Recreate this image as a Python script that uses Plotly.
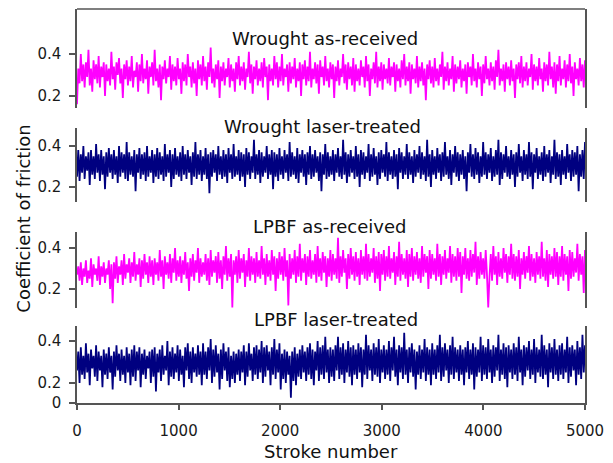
import numpy as np
import plotly.graph_objects as go

# Coefficient of friction readings (in hundredths), sampled evenly over 0..5000 strokes
wrought_as_received = [
    16, 33, 26, 40, 27, 35, 24, 36, 29, 42, 25, 33, 22, 37, 28, 35, 26, 39, 24, 34,
    29, 36, 20, 35, 27, 33, 25, 41, 28, 34, 23, 36, 30, 38, 26, 33, 19, 35, 28, 37,
    25, 34, 27, 39, 24, 32, 29, 36, 22, 35, 27, 40, 26, 33, 28, 37, 21, 34, 29, 36,
    25, 42, 27, 33, 24, 35, 18, 34, 28, 37, 26, 33, 29, 39, 23, 35, 27, 34, 25, 38,
    28, 33, 21, 36, 27, 35, 25, 40, 29, 34, 24, 36, 26, 33, 20, 37, 28, 35, 25, 39,
    27, 34, 23, 36, 29, 43, 26, 33, 24, 35, 28, 37, 19, 34, 27, 36, 25, 33, 29, 38,
    24, 35, 27, 33, 22, 36, 28, 39, 25, 34, 27, 36, 23, 33, 29, 41, 26, 35, 21, 34,
    28, 37, 25, 33, 27, 36, 24, 38, 29, 34, 18, 35, 27, 33, 25, 39, 28, 36, 24, 34,
    27, 40, 25, 33, 29, 35, 22, 36, 26, 34, 28, 38, 24, 33, 27, 36, 20, 35, 28, 37,
    25, 34, 27, 41, 24, 33, 28, 36, 26, 35, 21, 37, 29, 34, 25, 39, 27, 33, 24, 36,
    28, 35, 19, 34, 27, 37, 25, 33, 29, 40, 26, 35, 23, 36, 28, 34, 25, 38, 22, 35,
    27, 33, 25, 37, 29, 34, 24, 39, 27, 35, 20, 33, 28, 36, 26, 41, 24, 34, 27, 36,
    23, 35, 28, 33, 26, 38, 25, 34, 29, 36, 22, 35, 27, 33, 24, 37, 28, 40, 25, 34,
    27, 36, 21, 35, 28, 33, 26, 39, 24, 34, 27, 36, 25, 33, 18, 35, 28, 37, 26, 34,
    24, 38, 27, 33, 25, 35, 29, 41, 23, 34, 27, 36, 25, 33, 28, 39, 22, 35, 26, 34,
    28, 37, 24, 33, 27, 35, 21, 36, 29, 34, 25, 40, 27, 33, 24, 36, 28, 34, 20, 35,
    26, 39, 28, 33, 25, 36, 27, 34, 23, 37, 29, 42, 25, 33, 27, 35, 22, 36, 28, 34,
    25, 37, 27, 33, 19, 35, 28, 36, 26, 39, 24, 34, 27, 36, 25, 33, 29, 40, 23, 35,
    27, 34, 25, 38, 28, 33, 22, 36, 27, 35, 25, 41, 28, 34, 24, 36, 21, 35, 27, 39,
    25, 33, 28, 37, 24, 35, 27, 40, 26, 34, 20, 36, 28, 33, 25, 38, 27, 35, 24, 37,
]
wrought_laser_treated = [
    25, 38, 23, 36, 27, 40, 24, 35, 28, 37, 21, 38, 26, 35, 24, 41, 27, 36, 23, 38,
    26, 35, 19, 37, 25, 39, 27, 36, 24, 38, 26, 35, 22, 40, 25, 37, 27, 36, 24, 42,
    23, 37, 26, 35, 25, 38, 18, 36, 27, 39, 24, 36, 26, 37, 23, 40, 25, 35, 27, 38,
    22, 36, 25, 39, 24, 37, 26, 35, 23, 41, 25, 36, 27, 38, 20, 36, 24, 39, 26, 35,
    25, 37, 23, 40, 26, 36, 24, 38, 27, 35, 21, 37, 25, 42, 24, 36, 26, 38, 23, 35,
    26, 39, 24, 36, 17, 37, 25, 38, 27, 36, 23, 40, 26, 35, 24, 38, 25, 36, 22, 39,
    27, 36, 24, 41, 25, 35, 26, 38, 23, 37, 25, 36, 20, 39, 26, 37, 24, 35, 27, 43,
    24, 36, 26, 38, 22, 37, 25, 35, 27, 40, 24, 36, 26, 38, 19, 37, 25, 36, 23, 39,
    26, 35, 24, 38, 27, 36, 23, 42, 25, 37, 26, 35, 24, 39, 22, 36, 27, 38, 25, 36,
    21, 37, 26, 40, 24, 36, 25, 38, 27, 35, 23, 37, 18, 36, 26, 41, 24, 37, 25, 35,
    26, 38, 23, 36, 27, 39, 25, 35, 24, 43, 26, 37, 22, 36, 25, 38, 27, 35, 24, 40,
    25, 36, 20, 38, 26, 37, 24, 35, 27, 41, 23, 36, 25, 39, 26, 35, 21, 37, 24, 38,
    27, 36, 25, 42, 23, 37, 26, 35, 24, 38, 25, 36, 19, 39, 27, 37, 24, 35, 26, 41,
    24, 37, 26, 35, 22, 38, 25, 36, 27, 40, 24, 37, 26, 35, 23, 43, 25, 36, 20, 38,
    26, 35, 24, 39, 27, 36, 23, 37, 25, 42, 26, 35, 24, 38, 21, 36, 27, 40, 25, 37,
    23, 36, 26, 38, 24, 35, 18, 37, 27, 41, 25, 36, 24, 39, 26, 37, 22, 35, 25, 42,
    26, 37, 24, 36, 27, 39, 23, 35, 25, 38, 26, 43, 21, 37, 24, 36, 27, 40, 25, 35,
    24, 38, 26, 36, 20, 37, 25, 41, 27, 35, 23, 38, 26, 36, 24, 42, 25, 37, 19, 36,
    27, 39, 24, 35, 26, 37, 23, 40, 25, 36, 27, 38, 22, 35, 26, 43, 24, 37, 25, 36,
    21, 38, 26, 35, 24, 41, 27, 36, 23, 38, 25, 37, 26, 40, 18, 36, 25, 38, 24, 42,
]
lpbf_as_received = [
    27, 31, 24, 33, 22, 30, 26, 34, 23, 29, 25, 35, 21, 32, 27, 30, 24, 36, 22, 31,
    26, 33, 23, 30, 27, 34, 20, 32, 13, 33, 25, 36, 23, 31, 27, 34, 22, 37, 25, 32,
    28, 35, 23, 33, 26, 38, 24, 32, 27, 35, 21, 34, 25, 37, 27, 33, 23, 36, 26, 34,
    22, 35, 27, 33, 24, 39, 26, 34, 20, 36, 27, 33, 25, 37, 23, 35, 28, 40, 24, 34,
    26, 36, 23, 34, 27, 38, 25, 33, 19, 35, 26, 37, 24, 34, 28, 40, 23, 35, 26, 33,
    27, 37, 24, 35, 22, 39, 26, 34, 28, 36, 23, 38, 25, 34, 20, 36, 27, 41, 24, 35,
    26, 37, 11, 34, 27, 36, 23, 39, 25, 35, 28, 37, 21, 34, 26, 40, 24, 36, 27, 35,
    23, 38, 26, 34, 25, 41, 27, 35, 22, 37, 26, 34, 24, 39, 27, 36, 19, 35, 25, 38,
    27, 36, 24, 40, 26, 34, 12, 37, 25, 35, 27, 39, 23, 36, 26, 42, 24, 35, 28, 37,
    22, 36, 26, 39, 25, 34, 27, 37, 23, 41, 26, 35, 24, 38, 28, 36, 21, 35, 26, 39,
    24, 37, 27, 35, 25, 45, 23, 36, 26, 39, 28, 35, 20, 37, 25, 40, 27, 36, 24, 38,
    26, 35, 22, 39, 27, 36, 25, 42, 24, 37, 26, 35, 28, 40, 23, 36, 25, 38, 19, 37,
    27, 39, 24, 36, 26, 41, 25, 35, 28, 38, 22, 36, 26, 43, 24, 37, 27, 35, 25, 39,
    21, 37, 26, 40, 24, 36, 27, 38, 25, 35, 23, 41, 26, 37, 28, 36, 20, 39, 25, 37,
    27, 35, 24, 42, 26, 37, 22, 36, 27, 39, 25, 35, 28, 41, 23, 37, 26, 36, 24, 40,
    26, 38, 18, 36, 27, 40, 25, 35, 24, 39, 26, 37, 28, 43, 22, 36, 25, 38, 27, 35,
    25, 39, 27, 11, 26, 37, 24, 41, 27, 36, 22, 38, 26, 35, 25, 40, 28, 37, 23, 36,
    27, 42, 25, 37, 24, 36, 26, 39, 20, 35, 27, 38, 25, 36, 28, 41, 24, 37, 26, 35,
    23, 38, 27, 36, 25, 43, 26, 35, 24, 39, 21, 37, 27, 36, 25, 40, 26, 38, 22, 36,
    26, 41, 24, 37, 27, 36, 19, 39, 25, 38, 26, 35, 28, 42, 24, 37, 27, 36, 18, 39,
]
lpbf_laser_treated = [
    26, 35, 20, 37, 24, 33, 22, 39, 25, 34, 19, 36, 27, 33, 23, 38, 21, 35, 26, 33,
    18, 36, 24, 34, 22, 37, 25, 33, 17, 35, 23, 38, 26, 34, 21, 36, 24, 33, 20, 37,
    25, 34, 19, 36, 23, 38, 21, 35, 26, 37, 18, 34, 24, 36, 22, 33, 27, 35, 20, 36,
    23, 37, 16, 34, 25, 36, 21, 38, 24, 33, 26, 40, 19, 35, 23, 37, 22, 34, 25, 38,
    21, 36, 24, 33, 18, 37, 26, 39, 22, 35, 20, 37, 25, 34, 23, 38, 24, 35, 19, 39,
    24, 35, 22, 37, 26, 41, 20, 36, 23, 38, 25, 34, 17, 36, 22, 39, 26, 35, 21, 37,
    18, 33, 22, 35, 20, 34, 24, 36, 21, 35, 25, 38, 19, 35, 23, 39, 26, 34, 21, 37,
    24, 38, 22, 36, 25, 40, 20, 37, 23, 38, 26, 35, 19, 37, 24, 41, 22, 36, 25, 39,
    17, 34, 22, 36, 20, 35, 24, 33, 13, 35, 21, 37, 19, 34, 23, 36, 22, 38, 25, 35,
    21, 37, 24, 39, 22, 36, 19, 35, 26, 40, 21, 37, 24, 38, 22, 42, 25, 36, 20, 37,
    23, 36, 21, 38, 26, 42, 22, 37, 24, 39, 20, 36, 25, 40, 23, 37, 19, 38, 24, 36,
    22, 39, 25, 37, 18, 36, 24, 43, 22, 38, 26, 36, 21, 39, 24, 37, 23, 41, 20, 36,
    25, 38, 22, 36, 24, 40, 21, 37, 26, 42, 23, 36, 19, 38, 25, 37, 22, 44, 24, 36,
    20, 37, 25, 39, 23, 36, 17, 35, 24, 38, 22, 36, 25, 41, 21, 37, 24, 36, 19, 39,
    24, 36, 22, 38, 25, 43, 21, 37, 23, 39, 26, 36, 20, 38, 24, 42, 22, 37, 25, 36,
    21, 38, 24, 36, 19, 37, 25, 40, 22, 36, 24, 39, 17, 37, 23, 36, 25, 42, 21, 38,
    24, 37, 22, 41, 25, 36, 20, 38, 23, 37, 26, 43, 21, 36, 24, 39, 22, 37, 18, 38,
    25, 36, 22, 39, 24, 37, 21, 42, 25, 36, 19, 38, 23, 37, 26, 40, 22, 36, 24, 41,
    20, 37, 25, 36, 23, 43, 22, 38, 24, 36, 18, 39, 25, 37, 22, 41, 24, 36, 21, 38,
    24, 39, 22, 36, 25, 42, 20, 37, 23, 38, 26, 36, 19, 40, 24, 37, 22, 43, 25, 38,
]

panel_titles = ["Wrought as-received", "Wrought laser-treated",
                "LPBF as-received", "LPBF laser-treated"]
series = [wrought_as_received, wrought_laser_treated, lpbf_as_received, lpbf_laser_treated]
colors = ["#ff00ff", "#000080", "#ff00ff", "#000080"]

x_ticks = [0, 1000, 2000, 3000, 4000, 5000]
y_ticks = [0.2, 0.4]
y_ticklabels = ["0.2", "0.4"]
max_stroke = 5000

FONT = "DejaVu Sans"
AXC = "#555555"

fig = go.Figure()
for i, (vals, col) in enumerate(zip(series, colors)):
    y = np.array(vals) / 100.0
    x = np.linspace(0, max_stroke, len(y))
    fig.add_trace(go.Scatter(x=x, y=y, mode="lines", yaxis="y" if i == 0 else f"y{i+1}",
                             line=dict(color=col, width=1.8), showlegend=False,
                             hoverinfo="skip"))

domains = [[0.749, 1.0], [0.510, 0.698], [0.241, 0.434], [0.0, 0.195]]
ranges = [[0.143, 0.614], [0.127, 0.488], [0.107, 0.478], [0.105, 0.471]]

layout = dict(
    width=613, height=463,
    margin=dict(l=77, r=22, t=9, b=60),
    paper_bgcolor="white", plot_bgcolor="white",
    font=dict(family=FONT, color="#1a1a1a"),
    xaxis=dict(range=[0, max_stroke], anchor="y4", tickvals=x_ticks,
               ticks="outside", ticklen=5, tickwidth=1.5, tickcolor=AXC,
               showline=True, linecolor=AXC, linewidth=1.5, ticklabelstandoff=8,
               showgrid=False, zeroline=False, tickfont=dict(size=15, family=FONT)),
)
for i in range(4):
    key = "yaxis" if i == 0 else f"yaxis{i+1}"
    tv = list(y_ticks)
    tt = list(y_ticklabels)
    if i == 3:
        tv = [ranges[3][0]] + tv
        tt = ["0"] + tt
    layout[key] = dict(domain=domains[i], range=ranges[i], anchor="x",
                       tickvals=tv, ticktext=tt, ticks="outside", ticklen=6,
                       tickwidth=1.5, tickcolor=AXC, showline=True, mirror=True,
                       linecolor=AXC, linewidth=1.5, showgrid=False, zeroline=False,
                       ticklabelstandoff=5, tickfont=dict(size=15, family=FONT))
fig.update_layout(**layout)

fig.add_shape(type="line", xref="paper", yref="paper", x0=0, x1=1, y0=1, y1=1,
              line=dict(color=AXC, width=1.5))

title_pos = [(0.488, 0.926), (0.484, 0.703), (0.498, 0.447), (0.510, 0.213)]
for t, (xp, yp) in zip(panel_titles, title_pos):
    fig.add_annotation(text=t, xref="paper", yref="paper", x=xp, y=yp,
                       xanchor="center", yanchor="middle", showarrow=False,
                       font=dict(size=18, family=FONT, color="#111111"))

fig.add_annotation(text="Stroke number", xref="paper", yref="paper", x=0.5, y=-0.124,
                   xanchor="center", yanchor="middle", showarrow=False,
                   font=dict(size=18, family=FONT, color="#111111"))
fig.add_annotation(text="Coefficient of friction", xref="paper", yref="paper",
                   x=-0.107, y=0.467, textangle=-90, xanchor="center", yanchor="middle",
                   showarrow=False, font=dict(size=18, family=FONT, color="#111111"))

fig.write_html("out.html")
